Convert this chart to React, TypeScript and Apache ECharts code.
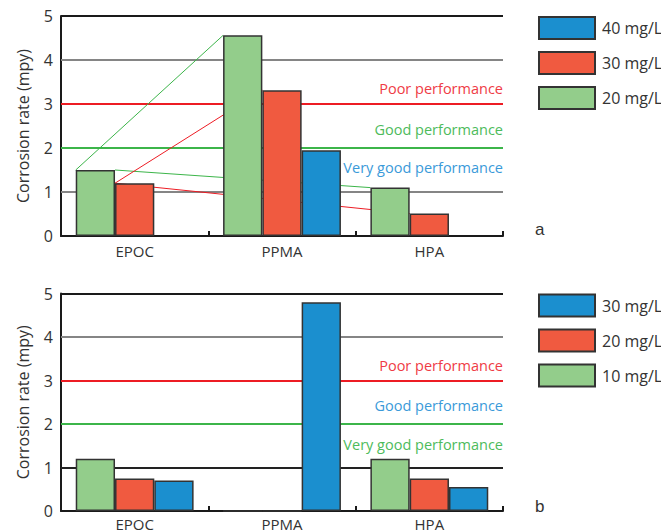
import React, { useEffect, useRef } from 'react';
import * as echarts from 'echarts';

const categories = ['EPOC', 'PPMA', 'HPA'];

// Panel a
const aNames = ['20 mg/L', '30 mg/L', '40 mg/L'];
const a20 = [1.5, 4.56, 1.1];
const a30 = [1.2, 3.31, 0.51];
const a40: (number | null)[] = [null, 1.95, null];

// Panel b
const bNames = ['10 mg/L', '20 mg/L', '30 mg/L'];
const b10 = [1.2, 0, 1.2];
const b20 = [0.75, 0, 0.75];
const b30 = [0.7, 4.8, 0.55];

const perfLabels = ['Poor performance', 'Good performance', 'Very good performance'];
const perfLevels = [3, 2, 2];

const FONT = '"Open Sans", "Noto Sans", sans-serif';
const GREEN = '#93cd8b';
const RED = '#f05a40';
const BLUE = '#1b8fcf';
const LINE_RED = '#ed1c24';
const LINE_GREEN = '#3cb54a';
const TXT_RED = '#ef3b45';
const TXT_GREEN = '#4dbb5b';
const TXT_BLUE = '#3a9ad9';
const GREY = '#858585';

const CAT_GAP = 0.2; // barCategoryGap fraction
const slot = (c: number, i: number) => c + CAT_GAP / 2 + (i * (1 - CAT_GAP)) / 3;

function makeOption(p: {
  names: string[];
  vals: (number | null)[][];
  gridTop: number;
  gridHeight: number;
  legendTop: number;
  letter: string;
  letterTop: number;
  line1Color: string;
  labelColors: string[];
  dist: number[];
  connectors: boolean;
  xMargin: number;
}) {
  const colors = [GREEN, RED, BLUE];
  const series: any[] = p.vals.map((v, i) => ({
    type: 'bar',
    name: p.names[i],
    data: v,
    barGap: '0%',
    barCategoryGap: CAT_GAP * 100 + '%',
    itemStyle: { color: colors[i], borderColor: '#333', borderWidth: 1.5 },
    z: 2,
    silent: true,
  }));
  const lbl = (i: number, pos: string) => ({
    show: true,
    position: pos,
    formatter: perfLabels[i],
    color: p.labelColors[i],
    fontSize: 14.5,
    fontFamily: FONT,
    distance: [0, p.dist[i]],
  });
  series[0].markLine = {
    silent: true,
    symbol: ['none', 'none'],
    z: 1,
    data: [
      { yAxis: 1, lineStyle: { color: p.line1Color, width: 2, type: 'solid' }, label: { show: false } },
      { yAxis: 4, lineStyle: { color: GREY, width: 2, type: 'solid' }, label: { show: false } },
      { yAxis: 5, lineStyle: { color: '#1a1a1a', width: 2, type: 'solid' }, label: { show: false } },
      { yAxis: perfLevels[0], lineStyle: { color: LINE_RED, width: 2, type: 'solid' }, label: lbl(0, 'insideEndTop') },
      { yAxis: perfLevels[1], lineStyle: { color: LINE_GREEN, width: 2, type: 'solid' }, label: lbl(1, 'insideEndTop') },
      { yAxis: perfLevels[2], lineStyle: { color: 'rgba(0,0,0,0)', width: 1, type: 'solid' }, label: lbl(2, 'insideEndBottom') },
    ],
  };
  if (p.connectors) {
    const mk = (data: number[][], color: string) => ({
      type: 'line',
      xAxisIndex: 1,
      yAxisIndex: 0,
      data,
      symbol: 'none',
      silent: true,
      z: 1,
      lineStyle: { color, width: 1 },
    });
    const g = p.vals[0] as number[];
    const r = p.vals[1] as number[];
    series.push(mk([[slot(0, 0), g[0]], [slot(1, 0), g[1]]], LINE_GREEN));
    series.push(mk([[slot(0, 1), g[0]], [slot(2, 0), g[2]]], LINE_GREEN));
    series.push(mk([[slot(0, 1), r[0]], [slot(1, 1), r[1]]], LINE_RED));
    series.push(mk([[slot(0, 1), r[0]], [slot(2, 1), r[2]]], LINE_RED));
  }
  return {
    animation: false,
    textStyle: { fontFamily: FONT },
    grid: { left: 61, top: p.gridTop, width: 442, height: p.gridHeight },
    legend: {
      orient: 'vertical',
      left: 538,
      top: p.legendTop,
      padding: 0,
      itemWidth: 56,
      itemHeight: 22,
      itemGap: 11,
      icon: 'rect',
      selectedMode: false,
      data: [...p.names].reverse(),
      textStyle: { fontSize: 16, color: '#333', fontFamily: FONT, padding: [0, 0, 0, 2] },
    },
    xAxis: [
      {
        type: 'category',
        data: categories,
        axisLine: { show: true, lineStyle: { color: '#1a1a1a', width: 2 } },
        axisTick: { show: true, inside: true, length: 5, lineStyle: { color: '#1a1a1a', width: 2 } },
        axisLabel: { fontSize: 15, color: '#333', margin: p.xMargin, fontFamily: FONT },
        splitLine: { show: false },
      },
      { type: 'value', min: 0, max: 3, show: false },
    ],
    yAxis: {
      type: 'value',
      min: 0,
      max: 5,
      interval: 1,
      axisLine: { show: true, lineStyle: { color: '#1a1a1a', width: 2 } },
      axisTick: { show: false },
      splitLine: { show: false },
      axisLabel: { fontSize: 16, color: '#333', margin: 8, fontFamily: FONT },
      name: 'Corrosion rate (mpy)',
      nameLocation: 'middle',
      nameGap: 30,
      nameTextStyle: { fontSize: 16, color: '#333', fontFamily: FONT },
    },
    graphic: [
      { type: 'text', left: 535, top: p.letterTop, style: { text: p.letter, fontSize: 17, fill: '#333', font: `17px ${FONT}` } },
    ],
    series,
  };
}

function Chart({ option, height }: { option: any; height: number }) {
  const ref = useRef<HTMLDivElement>(null);
  useEffect(() => {
    if (!ref.current) return;
    const chart = echarts.init(ref.current, undefined, { renderer: 'svg' });
    chart.setOption(option);
    return () => chart.dispose();
  }, [option]);
  return <div ref={ref} style={{ width: 661, height }} />;
}

const optA = makeOption({
  names: aNames,
  vals: [a20, a30, a40],
  gridTop: 16,
  gridHeight: 220,
  legendTop: 16,
  letter: 'a',
  letterTop: 221,
  line1Color: GREY,
  labelColors: [TXT_RED, TXT_GREEN, TXT_BLUE],
  dist: [8, 11, 12],
  connectors: true,
  xMargin: 7,
});

const optB = makeOption({
  names: bNames,
  vals: [b10, b20, b30],
  gridTop: 28.5,
  gridHeight: 218.5,
  legendTop: 28.5,
  letter: 'b',
  letterTop: 233,
  line1Color: '#222',
  labelColors: [TXT_RED, TXT_BLUE, TXT_GREEN],
  dist: [8, 11, 13],
  connectors: false,
  xMargin: 5,
});

export default function App() {
  return (
    <div style={{ position: 'absolute', left: 0, top: 0, width: 661, height: 531, background: '#fff', overflow: 'hidden' }}>
      <Chart option={optA} height={265} />
      <Chart option={optB} height={266} />
    </div>
  );
}
